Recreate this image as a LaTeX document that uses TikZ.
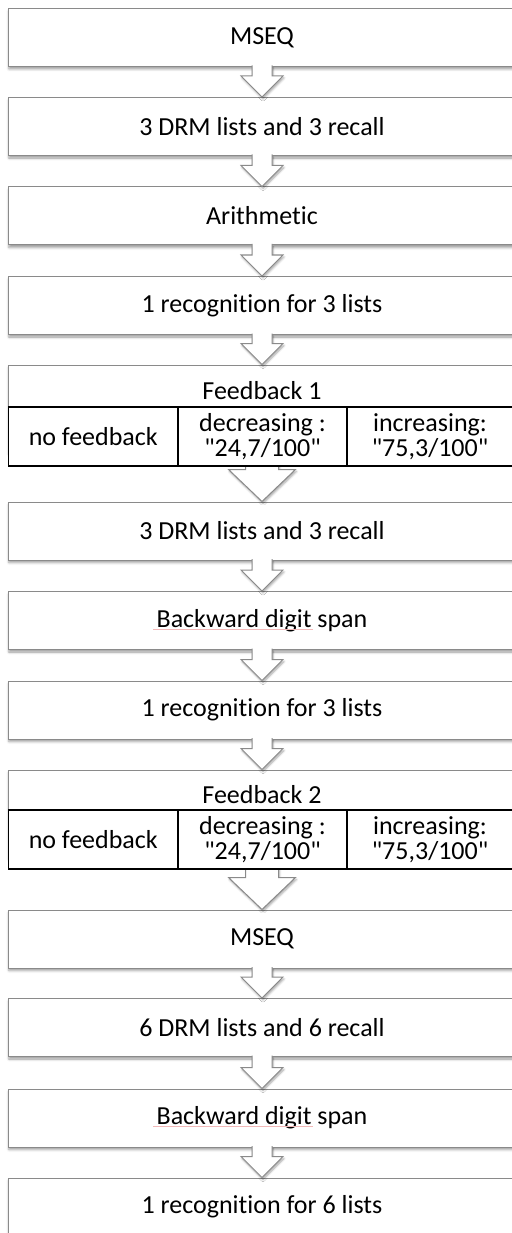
\documentclass[tikz,border=0pt]{standalone}
\usepackage{fontspec}
\setmainfont{Carlito}[Ligatures={TeXOff,NoCommon}]
\usetikzlibrary{calc,shadows.blur}
\definecolor{boxgray}{HTML}{8A8A8A}
\definecolor{squiggle}{HTML}{F2B8B8}
\tikzset{
  txt/.style={font=\fontsize{26}{25}\selectfont, text=black},
  stepbox/.style={txt, draw=boxgray, line width=1pt, fill=white,
    minimum width=524pt, minimum height=58pt, inner sep=0pt,
    execute at begin node={\hspace*{-16pt}},
    blur shadow={shadow xshift=1pt, shadow yshift=-2.5pt, shadow blur radius=2.5pt, shadow opacity=40}},
  cellbox/.style={txt, draw=black, line width=1.2pt, fill=white,
    minimum width=169pt, minimum height=59pt, inner sep=0pt, align=center},
  flowarrow/.style={draw=boxgray, line width=1pt, fill=white, line join=miter,
    blur shadow={shadow xshift=1pt, shadow yshift=-2pt, shadow blur radius=2pt, shadow opacity=35}},
  spell/.style={draw=squiggle, line width=0.9pt}
}
\newcommand\smallarrow[2]{%
  \draw[flowarrow] ($(#1.south)+(-18,-1.5)$) -- ($(#2.north)+(-18,-21)$) -- ($(#2.north)+(-29,-21)$)
   -- ($(#2.north)+(-8,0)$) -- ($(#2.north)+(13,-21)$) -- ($(#2.north)+(2,-21)$) -- ($(#1.south)+(2,-1.5)$);}
\newcommand\bigarrow[2]{%
  \draw[flowarrow] ($(#1.south)+(-24.5,-1.5)$) -- ($(#2.north)+(-24.5,-32)$) -- ($(#2.north)+(-41.5,-32)$)
   -- ($(#2.north)+(-8,0)$) -- ($(#2.north)+(25.5,-32)$) -- ($(#2.north)+(8.5,-32)$) -- ($(#1.south)+(8.5,-1.5)$);}
\begin{document}
\begin{tikzpicture}[x=1pt,y=-1pt]
\useasboundingbox (0,0) rectangle (511,1233);
% boxes (centre x = 270, box from 8 to 532; text centred at 262)
\node[stepbox] (b1) at (270,37.5) {MSEQ};
\node[stepbox] (b2) at (270,126.5) {3 DRM lists and 3 recall};
\node[stepbox] (b3) at (270,216) {Arithmetic};
\node[stepbox] (b4) at (270,305.5) {1 recognition for 3 lists};
\node[stepbox, minimum height=87pt] (fb1) at (270,408.5) {};
\node[txt] (fb1t) at (262,391) {Feedback 1};
\node[stepbox] (b6) at (270,531) {3 DRM lists and 3 recall};
\node[stepbox] (b7) at (270,620.5) {Backward digit span};
\node[stepbox] (b8) at (270,710) {1 recognition for 3 lists};
\node[stepbox, minimum height=87pt] (fb2) at (270,813.5) {};
\node[txt] (fb2t) at (262,795) {Feedback 2};
\node[stepbox] (b10) at (270,939) {MSEQ};
\node[stepbox] (b11) at (270,1027.5) {6 DRM lists and 6 recall};
\node[stepbox] (b12) at (270,1118) {Backward digit span};
\node[stepbox] (b13) at (270,1207) {1 recognition for 6 lists};
% spell-check underlines
\draw[spell] ($(b7.center)+(-117,8.5)$) -- ($(b7.center)+(43,8.5)$);
\draw[spell] ($(b12.center)+(-117,8.5)$) -- ($(b12.center)+(43,8.5)$);
% arrows
\smallarrow{b1}{b2}
\smallarrow{b2}{b3}
\smallarrow{b3}{b4}
\smallarrow{b4}{fb1}
\bigarrow{fb1}{b6}
\smallarrow{b6}{b7}
\smallarrow{b7}{b8}
\smallarrow{b8}{fb2}
\bigarrow{fb2}{b10}
\smallarrow{b10}{b11}
\smallarrow{b11}{b12}
\smallarrow{b12}{b13}
% feedback tables
\node[cellbox] (f1a) at (93.25,436.5) {no feedback};
\node[cellbox] (f1b) at (262.5,436.5) {decreasing :\\"24,7/100"};
\node[cellbox, minimum width=190pt] (f1c) at (442,436.5) {};
\node[txt, align=center] (f1ct) at (430,436.5) {increasing:\\"75,3/100"};
\node[cellbox] (f2a) at (93.25,839.5) {no feedback};
\node[cellbox] (f2b) at (262.5,839.5) {decreasing :\\"24,7/100"};
\node[cellbox, minimum width=190pt] (f2c) at (442,839.5) {};
\node[txt, align=center] (f2ct) at (430,839.5) {increasing:\\"75,3/100"};
\end{tikzpicture}
\end{document}
